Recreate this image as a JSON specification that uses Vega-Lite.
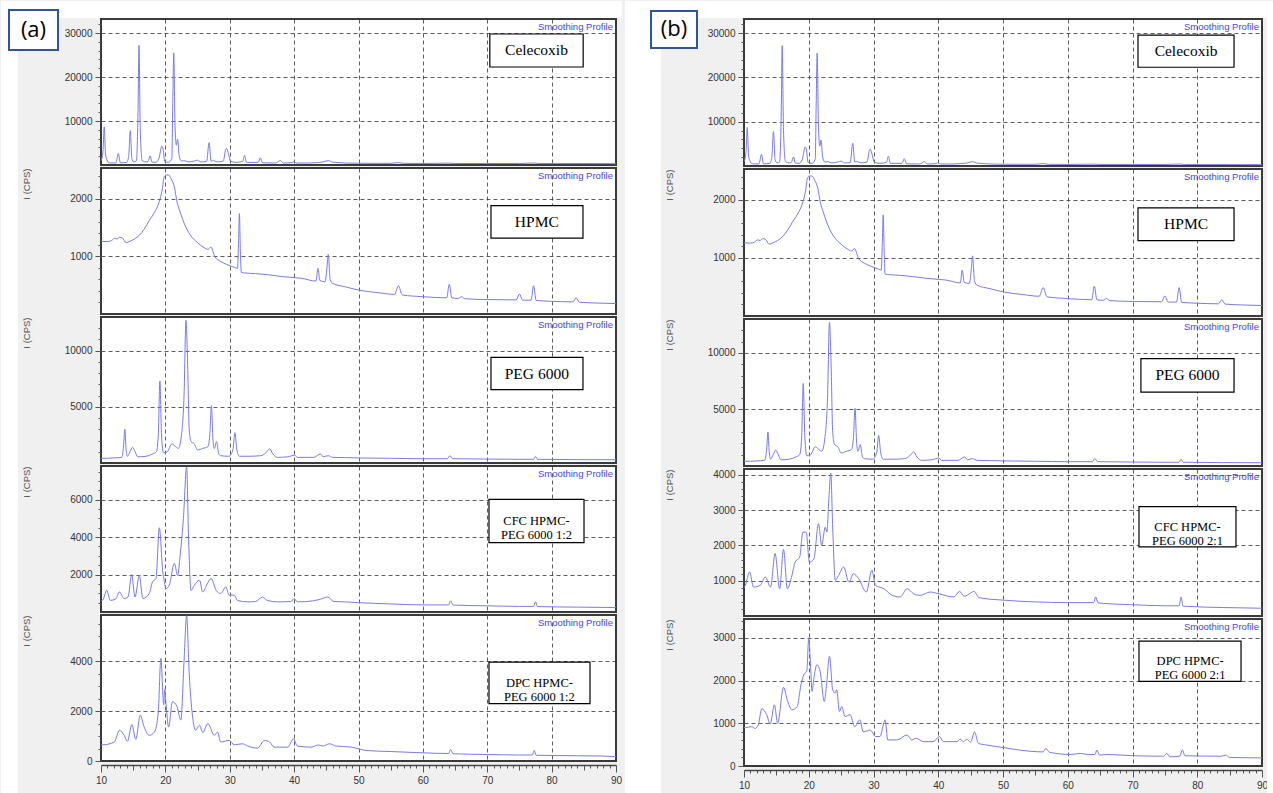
{
"$schema": "https://vega.github.io/schema/vega-lite/v6.json",
"padding": 0,
"background": "#f0f0f0",
"datasets": {
"one": [{}],
"cel": [{"t":10.0,"i":900},{"t":10.3,"i":3000},{"t":10.5,"i":8700},{"t":10.7,"i":2500},{"t":10.9,"i":1200},{"t":11.3,"i":500},{"t":12.3,"i":450},{"t":12.7,"i":2600},{"t":13.0,"i":500},{"t":14.0,"i":600},{"t":14.3,"i":2000},{"t":14.55,"i":7800},{"t":14.8,"i":1500},{"t":15.1,"i":700},{"t":15.5,"i":900},{"t":15.75,"i":12000},{"t":15.9,"i":27200},{"t":16.1,"i":8000},{"t":16.4,"i":1000},{"t":17.0,"i":700},{"t":17.3,"i":800},{"t":17.65,"i":2050},{"t":17.9,"i":700},{"t":18.5,"i":600},{"t":19.0,"i":1500},{"t":19.45,"i":4300},{"t":19.65,"i":3600},{"t":19.9,"i":800},{"t":20.5,"i":600},{"t":21.0,"i":1500},{"t":21.15,"i":14000},{"t":21.3,"i":25500},{"t":21.5,"i":9000},{"t":21.7,"i":4500},{"t":21.9,"i":5850},{"t":22.15,"i":2000},{"t":22.5,"i":900},{"t":23.0,"i":1000},{"t":23.5,"i":700},{"t":24.5,"i":900},{"t":25.0,"i":1100},{"t":25.5,"i":700},{"t":26.4,"i":800},{"t":26.8,"i":5100},{"t":27.1,"i":900},{"t":27.5,"i":1000},{"t":28.0,"i":700},{"t":29.0,"i":900},{"t":29.35,"i":3500},{"t":29.5,"i":3800},{"t":29.8,"i":2500},{"t":30.1,"i":900},{"t":31.0,"i":600},{"t":32.0,"i":800},{"t":32.3,"i":2200},{"t":32.6,"i":600},{"t":34.4,"i":600},{"t":34.75,"i":1650},{"t":35.1,"i":500},{"t":37.0,"i":450},{"t":37.6,"i":800},{"t":37.85,"i":1050},{"t":38.3,"i":450},{"t":39.7,"i":550},{"t":40.0,"i":830},{"t":40.3,"i":450},{"t":42.0,"i":450},{"t":43.5,"i":550},{"t":44.5,"i":700},{"t":45.3,"i":1000},{"t":46.0,"i":650},{"t":47.0,"i":550},{"t":48.0,"i":450},{"t":50.0,"i":400},{"t":55.0,"i":380},{"t":56.2,"i":550},{"t":57.0,"i":380},{"t":60.0,"i":350},{"t":64.0,"i":420},{"t":65.0,"i":350},{"t":70.0,"i":330},{"t":75.0,"i":350},{"t":77.4,"i":450},{"t":78.0,"i":330},{"t":85.0,"i":320},{"t":90.0,"i":300}],
"hpmc": [{"t":10.0,"i":1260},{"t":11.0,"i":1255},{"t":11.6,"i":1270},{"t":12.1,"i":1310},{"t":12.5,"i":1300},{"t":12.9,"i":1330},{"t":13.3,"i":1320},{"t":13.9,"i":1235},{"t":14.5,"i":1260},{"t":15.2,"i":1300},{"t":16.0,"i":1370},{"t":16.7,"i":1470},{"t":17.5,"i":1620},{"t":18.3,"i":1760},{"t":19.0,"i":1930},{"t":19.5,"i":2150},{"t":19.8,"i":2370},{"t":20.1,"i":2410},{"t":20.5,"i":2410},{"t":20.9,"i":2340},{"t":21.4,"i":2200},{"t":21.8,"i":1950},{"t":22.2,"i":1800},{"t":23.2,"i":1500},{"t":24.0,"i":1350},{"t":25.0,"i":1235},{"t":26.0,"i":1150},{"t":26.6,"i":1120},{"t":27.1,"i":1160},{"t":27.4,"i":1080},{"t":27.7,"i":990},{"t":28.6,"i":910},{"t":29.5,"i":860},{"t":30.7,"i":810},{"t":31.2,"i":790},{"t":31.35,"i":1200},{"t":31.5,"i":1740},{"t":31.65,"i":1100},{"t":31.8,"i":720},{"t":32.5,"i":710},{"t":34.0,"i":700},{"t":36.0,"i":680},{"t":38.0,"i":650},{"t":40.0,"i":630},{"t":41.1,"i":620},{"t":43.4,"i":570},{"t":43.7,"i":790},{"t":44.0,"i":580},{"t":44.8,"i":560},{"t":45.1,"i":800},{"t":45.3,"i":1035},{"t":45.6,"i":600},{"t":46.0,"i":530},{"t":48.0,"i":470},{"t":50.0,"i":415},{"t":53.0,"i":370},{"t":55.6,"i":340},{"t":56.2,"i":490},{"t":56.8,"i":330},{"t":60.0,"i":300},{"t":63.7,"i":280},{"t":64.1,"i":515},{"t":64.5,"i":280},{"t":65.5,"i":270},{"t":66.0,"i":300},{"t":66.5,"i":265},{"t":70.0,"i":250},{"t":74.5,"i":245},{"t":75.0,"i":345},{"t":75.5,"i":240},{"t":76.8,"i":240},{"t":77.2,"i":490},{"t":77.6,"i":235},{"t":80.0,"i":220},{"t":83.3,"i":210},{"t":83.8,"i":280},{"t":84.3,"i":205},{"t":87.0,"i":190},{"t":90.0,"i":180}],
"peg": [{"t":10.0,"i":420},{"t":11.0,"i":420},{"t":12.0,"i":450},{"t":13.2,"i":500},{"t":13.5,"i":1500},{"t":13.7,"i":3000},{"t":13.9,"i":1200},{"t":14.1,"i":600},{"t":14.5,"i":1000},{"t":14.9,"i":1400},{"t":15.3,"i":1000},{"t":15.7,"i":550},{"t":17.0,"i":600},{"t":18.0,"i":800},{"t":18.6,"i":1000},{"t":18.9,"i":2500},{"t":19.15,"i":7300},{"t":19.4,"i":2500},{"t":19.7,"i":900},{"t":20.3,"i":1000},{"t":21.0,"i":1700},{"t":21.5,"i":1500},{"t":22.0,"i":1300},{"t":22.5,"i":2500},{"t":22.9,"i":6000},{"t":23.2,"i":12700},{"t":23.45,"i":9000},{"t":23.7,"i":3000},{"t":24.0,"i":1900},{"t":24.5,"i":1700},{"t":25.0,"i":1150},{"t":25.8,"i":1300},{"t":26.6,"i":1450},{"t":26.9,"i":2500},{"t":27.15,"i":5100},{"t":27.4,"i":2000},{"t":27.6,"i":1300},{"t":27.95,"i":1900},{"t":28.3,"i":800},{"t":28.6,"i":650},{"t":29.9,"i":600},{"t":30.5,"i":1200},{"t":30.8,"i":2700},{"t":31.1,"i":1200},{"t":31.5,"i":600},{"t":33.0,"i":600},{"t":34.8,"i":650},{"t":35.6,"i":900},{"t":36.2,"i":1250},{"t":36.7,"i":800},{"t":37.4,"i":500},{"t":39.0,"i":550},{"t":40.1,"i":700},{"t":40.5,"i":500},{"t":43.0,"i":500},{"t":44.1,"i":800},{"t":44.5,"i":550},{"t":45.3,"i":650},{"t":46.0,"i":500},{"t":48.0,"i":480},{"t":50.0,"i":450},{"t":55.0,"i":420},{"t":60.0,"i":380},{"t":63.8,"i":380},{"t":64.2,"i":650},{"t":64.6,"i":380},{"t":70.0,"i":350},{"t":75.0,"i":330},{"t":77.2,"i":330},{"t":77.5,"i":600},{"t":77.8,"i":330},{"t":84.0,"i":300},{"t":90.0,"i":290}],
"cfc12": [{"t":10.0,"i":600},{"t":10.3,"i":650},{"t":10.9,"i":1160},{"t":11.45,"i":620},{"t":12.3,"i":700},{"t":12.85,"i":1070},{"t":13.6,"i":720},{"t":14.2,"i":800},{"t":14.77,"i":2000},{"t":15.28,"i":800},{"t":15.95,"i":1960},{"t":16.5,"i":720},{"t":17.5,"i":990},{"t":18.0,"i":1610},{"t":18.54,"i":1790},{"t":19.06,"i":4500},{"t":19.6,"i":2150},{"t":19.8,"i":1700},{"t":20.1,"i":1250},{"t":20.6,"i":1430},{"t":21.4,"i":2600},{"t":21.9,"i":1960},{"t":22.3,"i":3050},{"t":22.8,"i":5000},{"t":23.3,"i":7750},{"t":23.6,"i":4000},{"t":23.98,"i":1150},{"t":24.5,"i":1430},{"t":25.3,"i":1700},{"t":25.8,"i":1070},{"t":26.5,"i":1500},{"t":27.1,"i":1790},{"t":27.9,"i":1150},{"t":28.6,"i":990},{"t":29.4,"i":1340},{"t":29.9,"i":900},{"t":30.7,"i":900},{"t":31.2,"i":620},{"t":32.8,"i":540},{"t":34.0,"i":560},{"t":35.1,"i":800},{"t":35.8,"i":620},{"t":37.4,"i":540},{"t":39.5,"i":560},{"t":40.0,"i":720},{"t":40.5,"i":540},{"t":43.0,"i":600},{"t":44.2,"i":700},{"t":45.2,"i":800},{"t":46.2,"i":560},{"t":48.0,"i":540},{"t":50.0,"i":500},{"t":55.0,"i":430},{"t":60.0,"i":380},{"t":64.0,"i":380},{"t":64.3,"i":600},{"t":64.7,"i":370},{"t":70.0,"i":330},{"t":75.0,"i":300},{"t":77.2,"i":300},{"t":77.5,"i":550},{"t":77.8,"i":290},{"t":84.0,"i":260},{"t":90.0,"i":240}],
"dpc12": [{"t":10.0,"i":650},{"t":10.3,"i":650},{"t":12.07,"i":760},{"t":12.85,"i":1230},{"t":13.6,"i":1030},{"t":14.1,"i":790},{"t":14.8,"i":1460},{"t":15.4,"i":865},{"t":16.1,"i":1840},{"t":16.7,"i":1360},{"t":17.5,"i":1030},{"t":18.3,"i":1160},{"t":18.9,"i":1970},{"t":19.3,"i":4110},{"t":19.74,"i":2250},{"t":19.9,"i":2860},{"t":20.1,"i":2300},{"t":20.5,"i":1360},{"t":21.1,"i":2380},{"t":21.8,"i":2180},{"t":22.4,"i":1640},{"t":22.9,"i":4000},{"t":23.3,"i":5830},{"t":23.7,"i":3500},{"t":24.2,"i":1840},{"t":24.7,"i":1230},{"t":25.3,"i":1435},{"t":25.8,"i":1140},{"t":26.6,"i":1500},{"t":27.6,"i":1030},{"t":28.1,"i":1160},{"t":28.6,"i":760},{"t":29.9,"i":825},{"t":30.7,"i":650},{"t":32.0,"i":690},{"t":32.8,"i":600},{"t":34.3,"i":515},{"t":35.4,"i":825},{"t":36.2,"i":760},{"t":36.9,"i":555},{"t":39.0,"i":555},{"t":39.9,"i":890},{"t":40.5,"i":600},{"t":42.6,"i":555},{"t":43.8,"i":640},{"t":44.5,"i":600},{"t":45.5,"i":690},{"t":46.5,"i":600},{"t":48.8,"i":560},{"t":50.1,"i":480},{"t":51.2,"i":420},{"t":55.0,"i":380},{"t":59.7,"i":330},{"t":64.0,"i":300},{"t":64.3,"i":460},{"t":64.7,"i":290},{"t":70.0,"i":260},{"t":75.0,"i":240},{"t":77.0,"i":240},{"t":77.3,"i":420},{"t":77.6,"i":230},{"t":84.0,"i":210},{"t":87.7,"i":200},{"t":90.0,"i":175}],
"cfc21": [{"t":10.0,"i":800},{"t":10.2,"i":870},{"t":10.85,"i":1250},{"t":11.47,"i":820},{"t":12.5,"i":870},{"t":13.3,"i":1105},{"t":14.1,"i":820},{"t":14.8,"i":1770},{"t":15.5,"i":775},{"t":16.1,"i":1890},{"t":16.7,"i":775},{"t":17.4,"i":1150},{"t":17.9,"i":1530},{"t":18.6,"i":1670},{"t":19.1,"i":2380},{"t":19.6,"i":2380},{"t":20.1,"i":1530},{"t":20.8,"i":1620},{"t":21.5,"i":2620},{"t":22.0,"i":2010},{"t":22.55,"i":2520},{"t":22.8,"i":2380},{"t":23.1,"i":3300},{"t":23.4,"i":4050},{"t":23.7,"i":2500},{"t":24.1,"i":1010},{"t":24.6,"i":1150},{"t":25.4,"i":1390},{"t":26.2,"i":960},{"t":26.9,"i":1200},{"t":27.7,"i":1060},{"t":28.9,"i":680},{"t":29.75,"i":1300},{"t":30.3,"i":870},{"t":31.6,"i":775},{"t":32.9,"i":585},{"t":34.1,"i":540},{"t":35.2,"i":775},{"t":36.2,"i":630},{"t":37.2,"i":585},{"t":38.75,"i":680},{"t":40.1,"i":630},{"t":42.4,"i":540},{"t":43.3,"i":700},{"t":44.0,"i":560},{"t":45.0,"i":650},{"t":45.5,"i":700},{"t":46.3,"i":520},{"t":50.0,"i":450},{"t":55.0,"i":400},{"t":60.0,"i":380},{"t":64.0,"i":380},{"t":64.3,"i":540},{"t":64.7,"i":370},{"t":70.0,"i":320},{"t":75.0,"i":290},{"t":77.2,"i":290},{"t":77.5,"i":540},{"t":77.8,"i":280},{"t":84.0,"i":240},{"t":90.0,"i":220}],
"dpc21": [{"t":10.0,"i":900},{"t":10.2,"i":900},{"t":11.2,"i":920},{"t":11.7,"i":880},{"t":12.2,"i":960},{"t":12.75,"i":1340},{"t":13.5,"i":1200},{"t":14.05,"i":980},{"t":14.7,"i":1430},{"t":15.2,"i":1000},{"t":16.1,"i":1840},{"t":16.75,"i":1510},{"t":17.4,"i":1315},{"t":18.2,"i":1390},{"t":18.8,"i":1900},{"t":19.25,"i":2140},{"t":19.7,"i":2220},{"t":20.0,"i":3000},{"t":20.3,"i":2290},{"t":20.5,"i":1745},{"t":20.8,"i":2060},{"t":21.25,"i":2370},{"t":21.75,"i":2220},{"t":22.4,"i":1510},{"t":22.7,"i":1820},{"t":23.2,"i":2570},{"t":23.7,"i":1785},{"t":24.1,"i":1705},{"t":24.3,"i":1785},{"t":24.75,"i":1275},{"t":25.1,"i":1390},{"t":25.6,"i":1160},{"t":26.4,"i":1200},{"t":27.1,"i":920},{"t":27.9,"i":1080},{"t":28.4,"i":800},{"t":29.5,"i":840},{"t":30.3,"i":690},{"t":31.0,"i":690},{"t":31.8,"i":1080},{"t":32.2,"i":610},{"t":33.6,"i":610},{"t":35.2,"i":725},{"t":35.9,"i":610},{"t":36.6,"i":650},{"t":37.7,"i":570},{"t":39.2,"i":570},{"t":40.2,"i":690},{"t":40.8,"i":570},{"t":42.9,"i":570},{"t":43.4,"i":630},{"t":43.9,"i":570},{"t":44.4,"i":625},{"t":45.0,"i":560},{"t":45.6,"i":800},{"t":46.2,"i":530},{"t":47.5,"i":490},{"t":50.1,"i":430},{"t":52.7,"i":370},{"t":56.2,"i":330},{"t":56.6,"i":410},{"t":57.2,"i":320},{"t":60.4,"i":270},{"t":62.0,"i":295},{"t":63.0,"i":270},{"t":64.2,"i":270},{"t":64.5,"i":375},{"t":64.9,"i":255},{"t":66.0,"i":270},{"t":70.2,"i":240},{"t":74.8,"i":230},{"t":75.3,"i":295},{"t":75.8,"i":215},{"t":77.3,"i":230},{"t":77.7,"i":375},{"t":78.1,"i":240},{"t":83.8,"i":230},{"t":84.4,"i":255},{"t":85.0,"i":200},{"t":90.0,"i":190}]
},
"spacing": 0,
"hconcat": [
{"spacing": 3, "bounds": "flush", "vconcat": [
 {"width": 515, "height": 146, "layer": [
  {"data": {"name": "cel"}, "mark": {"type": "line", "color": "#7a7ae8", "strokeWidth": 1, "clip": true, "interpolate": "monotone"},
   "encoding": {
    "x": {"field": "t", "type": "quantitative", "scale": {"domain": [10, 90], "nice": false, "zero": false}, "axis": {"values": [10,20,30,40,50,60,70,80,90], "labels": false, "ticks": false, "title": null, "minExtent": 0, "maxExtent": 0}},
    "y": {"field": "i", "type": "quantitative", "scale": {"domain": [0, 33200], "nice": false}, "axis": {"values": [2000,4000,6000,8000,10000,12000,14000,16000,18000,20000,22000,24000,26000,28000,30000,32000], "labelExpr": "datum.value % 10000 === 0 ? datum.value : ''", "tickSize": {"condition": {"test": "datum.value % 10000 === 0", "value": 6}, "value": 3}, "gridOpacity": {"condition": {"test": "datum.value % 10000 === 0", "value": 1}, "value": 0}, "title": null}}
   }},
  {"data": {"name": "one"}, "mark": {"type": "rect", "fill": "white"}, "encoding": {"x": {"datum": -5.53}, "x2": {"datum": 90.93}, "y": {"datum": 33427}, "y2": {"datum": 37293}}},
  {"data": {"name": "one"}, "mark": {"type": "rect", "fill": "white"}, "encoding": {"x": {"datum": -5.53}, "x2": {"datum": -2.89}, "y": {"datum": -682}, "y2": {"datum": 33427}}},
  {"data": {"name": "one"}, "mark": {"type": "text", "text": "Smoothing Profile", "align": "right", "baseline": "top", "dx": -3, "dy": 3, "font": "Liberation Sans", "fontSize": 9.5, "color": "#4646e0"}, "encoding": {"x": {"datum": 90}, "y": {"datum": 33200}}},
  {"data": {"name": "one"}, "mark": {"type": "rect", "fill": "white", "stroke": "black", "strokeWidth": 1.2}, "encoding": {"x": {"datum": 70.4}, "x2": {"datum": 84.9}, "y": {"datum": 29790}, "y2": {"datum": 22285}}},
  {"data": {"name": "one"}, "mark": {"type": "text", "text": "Celecoxib", "font": "Liberation Serif", "fontSize": 15.5, "baseline": "middle"}, "encoding": {"x": {"datum": 77.65}, "y": {"datum": 26037}}},
  {"data": {"name": "one"}, "mark": {"type": "rect", "fill": "white", "stroke": "#2f5597", "strokeWidth": 2}, "encoding": {"x": {"datum": -4.29}, "x2": {"datum": 3.32}, "y": {"datum": 35250}, "y2": {"datum": 26150}}},
  {"data": {"name": "one"}, "mark": {"type": "text", "text": "(a)", "font": "Open Sans", "fontSize": 22, "baseline": "middle"}, "encoding": {"x": {"datum": -0.49}, "y": {"datum": 30700}}}
 ]},
 {"width": 515, "height": 146, "layer": [
  {"data": {"name": "hpmc"}, "mark": {"type": "line", "color": "#7a7ae8", "strokeWidth": 1, "clip": true, "interpolate": "monotone"},
   "encoding": {
    "x": {"field": "t", "type": "quantitative", "scale": {"domain": [10, 90], "nice": false, "zero": false}, "axis": {"values": [10,20,30,40,50,60,70,80,90], "labels": false, "ticks": false, "title": null, "minExtent": 0, "maxExtent": 0}},
    "y": {"field": "i", "type": "quantitative", "scale": {"domain": [0, 2530], "nice": false}, "axis": {"values": [200,400,600,800,1000,1200,1400,1600,1800,2000,2200,2400], "labelExpr": "datum.value % 1000 === 0 ? datum.value : ''", "tickSize": {"condition": {"test": "datum.value % 1000 === 0", "value": 6}, "value": 3}, "gridOpacity": {"condition": {"test": "datum.value % 1000 === 0", "value": 1}, "value": 0}, "title": "I (CPS)"}}
   }},
  {"data": {"name": "one"}, "mark": {"type": "rect", "fill": "white"}, "encoding": {"x": {"datum": -5.53}, "x2": {"datum": -2.89}, "y": {"datum": -52}, "y2": {"datum": 2530}}},
  {"data": {"name": "one"}, "mark": {"type": "text", "text": "Smoothing Profile", "align": "right", "baseline": "top", "dx": -3, "dy": 3, "font": "Liberation Sans", "fontSize": 9.5, "color": "#4646e0"}, "encoding": {"x": {"datum": 90}, "y": {"datum": 2530}}},
  {"data": {"name": "one"}, "mark": {"type": "rect", "fill": "white", "stroke": "black", "strokeWidth": 1.2}, "encoding": {"x": {"datum": 70.58}, "x2": {"datum": 84.87}, "y": {"datum": 1877}, "y2": {"datum": 1316}}},
  {"data": {"name": "one"}, "mark": {"type": "text", "text": "HPMC", "font": "Liberation Serif", "fontSize": 15.5, "baseline": "middle"}, "encoding": {"x": {"datum": 77.7}, "y": {"datum": 1596}}}
 ]},
 {"width": 515, "height": 146, "layer": [
  {"data": {"name": "peg"}, "mark": {"type": "line", "color": "#7a7ae8", "strokeWidth": 1, "clip": true, "interpolate": "monotone"},
   "encoding": {
    "x": {"field": "t", "type": "quantitative", "scale": {"domain": [10, 90], "nice": false, "zero": false}, "axis": {"values": [10,20,30,40,50,60,70,80,90], "labels": false, "ticks": false, "title": null, "minExtent": 0, "maxExtent": 0}},
    "y": {"field": "i", "type": "quantitative", "scale": {"domain": [0, 13000], "nice": false}, "axis": {"values": [1000,2000,3000,4000,5000,6000,7000,8000,9000,10000,11000,12000], "labelExpr": "datum.value % 5000 === 0 ? datum.value : ''", "tickSize": {"condition": {"test": "datum.value % 5000 === 0", "value": 6}, "value": 3}, "gridOpacity": {"condition": {"test": "datum.value % 5000 === 0", "value": 1}, "value": 0}, "title": "I (CPS)"}}
   }},
  {"data": {"name": "one"}, "mark": {"type": "rect", "fill": "white"}, "encoding": {"x": {"datum": -5.53}, "x2": {"datum": -2.89}, "y": {"datum": -267}, "y2": {"datum": 13000}}},
  {"data": {"name": "one"}, "mark": {"type": "text", "text": "Smoothing Profile", "align": "right", "baseline": "top", "dx": -3, "dy": 3, "font": "Liberation Sans", "fontSize": 9.5, "color": "#4646e0"}, "encoding": {"x": {"datum": 90}, "y": {"datum": 13000}}},
  {"data": {"name": "one"}, "mark": {"type": "rect", "fill": "white", "stroke": "black", "strokeWidth": 1.2}, "encoding": {"x": {"datum": 70.58}, "x2": {"datum": 84.87}, "y": {"datum": 9400}, "y2": {"datum": 6526}}},
  {"data": {"name": "one"}, "mark": {"type": "text", "text": "PEG 6000", "font": "Liberation Serif", "fontSize": 15.5, "baseline": "middle"}, "encoding": {"x": {"datum": 77.7}, "y": {"datum": 7963}}}
 ]},
 {"width": 515, "height": 146, "layer": [
  {"data": {"name": "cfc12"}, "mark": {"type": "line", "color": "#7a7ae8", "strokeWidth": 1, "clip": true, "interpolate": "monotone"},
   "encoding": {
    "x": {"field": "t", "type": "quantitative", "scale": {"domain": [10, 90], "nice": false, "zero": false}, "axis": {"values": [10,20,30,40,50,60,70,80,90], "labels": false, "ticks": false, "title": null, "minExtent": 0, "maxExtent": 0}},
    "y": {"field": "i", "type": "quantitative", "scale": {"domain": [0, 7800], "nice": false}, "axis": {"values": [500,1000,1500,2000,2500,3000,3500,4000,4500,5000,5500,6000,6500,7000,7500], "labelExpr": "datum.value % 2000 === 0 ? datum.value : ''", "tickSize": {"condition": {"test": "datum.value % 2000 === 0", "value": 6}, "value": 3}, "gridOpacity": {"condition": {"test": "datum.value % 2000 === 0", "value": 1}, "value": 0}, "title": "I (CPS)"}}
   }},
  {"data": {"name": "one"}, "mark": {"type": "rect", "fill": "white"}, "encoding": {"x": {"datum": -5.53}, "x2": {"datum": -2.89}, "y": {"datum": -160}, "y2": {"datum": 7800}}},
  {"data": {"name": "one"}, "mark": {"type": "text", "text": "Smoothing Profile", "align": "right", "baseline": "top", "dx": -3, "dy": 3, "font": "Liberation Sans", "fontSize": 9.5, "color": "#4646e0"}, "encoding": {"x": {"datum": 90}, "y": {"datum": 7800}}},
  {"data": {"name": "one"}, "mark": {"type": "rect", "fill": "white", "stroke": "black", "strokeWidth": 1.2}, "encoding": {"x": {"datum": 70.27}, "x2": {"datum": 85.03}, "y": {"datum": 6016}, "y2": {"datum": 3704}}},
  {"data": {"name": "one"}, "mark": {"type": "text", "text": ["CFC HPMC-", "PEG 6000 1:2"], "font": "Liberation Serif", "fontSize": 12.5, "lineHeight": 14, "baseline": "middle"}, "encoding": {"x": {"datum": 77.65}, "y": {"datum": 4860}}}
 ]},
 {"width": 515, "height": 146, "layer": [
  {"data": {"name": "dpc12"}, "mark": {"type": "line", "color": "#7a7ae8", "strokeWidth": 1, "clip": true, "interpolate": "monotone"},
   "encoding": {
    "x": {"field": "t", "type": "quantitative", "scale": {"domain": [10, 90], "nice": false, "zero": false}, "axis": {"values": [10,11,12,13,14,15,16,17,18,19,20,21,22,23,24,25,26,27,28,29,30,31,32,33,34,35,36,37,38,39,40,41,42,43,44,45,46,47,48,49,50,51,52,53,54,55,56,57,58,59,60,61,62,63,64,65,66,67,68,69,70,71,72,73,74,75,76,77,78,79,80,81,82,83,84,85,86,87,88,89,90], "labelExpr": "datum.value % 10 === 0 ? datum.value : ''", "tickSize": {"condition": [{"test": "datum.value % 10 === 0", "value": 7}, {"test": "datum.value % 5 === 0", "value": 5}], "value": 3}, "gridOpacity": {"condition": {"test": "datum.value % 10 === 0", "value": 1}, "value": 0}, "offset": 4, "domain": true, "domainColor": "#444", "domainWidth": 1.5, "labelPadding": 3, "title": null}},
    "y": {"field": "i", "type": "quantitative", "scale": {"domain": [0, 5850], "nice": false}, "axis": {"values": [0,500,1000,1500,2000,2500,3000,3500,4000,4500,5000,5500], "labelExpr": "datum.value % 2000 === 0 ? datum.value : ''", "tickSize": {"condition": {"test": "datum.value % 2000 === 0", "value": 6}, "value": 3}, "gridOpacity": {"condition": {"test": "datum.value % 2000 === 0", "value": 1}, "value": 0}, "title": "I (CPS)"}}
   }},
  {"data": {"name": "one"}, "mark": {"type": "rect", "fill": "white"}, "encoding": {"x": {"datum": -5.53}, "x2": {"datum": -2.89}, "y": {"datum": -1323}, "y2": {"datum": 5850}}},
  {"data": {"name": "one"}, "mark": {"type": "text", "text": "Smoothing Profile", "align": "right", "baseline": "top", "dx": -3, "dy": 3, "font": "Liberation Sans", "fontSize": 9.5, "color": "#4646e0"}, "encoding": {"x": {"datum": 90}, "y": {"datum": 5850}}},
  {"data": {"name": "one"}, "mark": {"type": "rect", "fill": "white", "stroke": "black", "strokeWidth": 1.2}, "encoding": {"x": {"datum": 70.27}, "x2": {"datum": 85.96}, "y": {"datum": 3961}, "y2": {"datum": 2299}}},
  {"data": {"name": "one"}, "mark": {"type": "text", "text": ["DPC  HPMC-", "PEG 6000 1:2"], "font": "Liberation Serif", "fontSize": 12.5, "lineHeight": 14, "baseline": "middle"}, "encoding": {"x": {"datum": 78.1}, "y": {"datum": 3130}}}
 ]}
]},
{"spacing": 3, "bounds": "flush", "vconcat": [
 {"width": 518, "height": 147, "layer": [
  {"data": {"name": "cel"}, "mark": {"type": "line", "color": "#7a7ae8", "strokeWidth": 1, "clip": true, "interpolate": "monotone"},
   "encoding": {
    "x": {"field": "t", "type": "quantitative", "scale": {"domain": [10, 90], "nice": false, "zero": false}, "axis": {"values": [10,20,30,40,50,60,70,80,90], "labels": false, "ticks": false, "title": null, "minExtent": 0, "maxExtent": 0}},
    "y": {"field": "i", "type": "quantitative", "scale": {"domain": [0, 33200], "nice": false}, "axis": {"values": [2000,4000,6000,8000,10000,12000,14000,16000,18000,20000,22000,24000,26000,28000,30000,32000], "labelExpr": "datum.value % 10000 === 0 ? datum.value : ''", "tickSize": {"condition": {"test": "datum.value % 10000 === 0", "value": 6}, "value": 3}, "gridOpacity": {"condition": {"test": "datum.value % 10000 === 0", "value": 1}, "value": 0}, "title": null}}
   }},
  {"data": {"name": "one"}, "mark": {"type": "rect", "fill": "white"}, "encoding": {"x": {"datum": -8.38}, "x2": {"datum": 92.32}, "y": {"datum": 33426}, "y2": {"datum": 37265}}},
  {"data": {"name": "one"}, "mark": {"type": "rect", "fill": "white"}, "encoding": {"x": {"datum": -8.38}, "x2": {"datum": -2.82}, "y": {"datum": -678}, "y2": {"datum": 33426}}},
  {"data": {"name": "one"}, "mark": {"type": "rect", "fill": "white"}, "encoding": {"x": {"datum": 90.77}, "x2": {"datum": 92.32}, "y": {"datum": -678}, "y2": {"datum": 33426}}},
  {"data": {"name": "one"}, "mark": {"type": "text", "text": "Smoothing Profile", "align": "right", "baseline": "top", "dx": -3, "dy": 3, "font": "Liberation Sans", "fontSize": 9.5, "color": "#4646e0"}, "encoding": {"x": {"datum": 90}, "y": {"datum": 33200}}},
  {"data": {"name": "one"}, "mark": {"type": "rect", "fill": "white", "stroke": "black", "strokeWidth": 1.2}, "encoding": {"x": {"datum": 70.85}, "x2": {"datum": 85.68}, "y": {"datum": 29540}, "y2": {"datum": 22300}}},
  {"data": {"name": "one"}, "mark": {"type": "text", "text": "Celecoxib", "font": "Liberation Serif", "fontSize": 15.5, "baseline": "middle"}, "encoding": {"x": {"datum": 78.27}, "y": {"datum": 25920}}},
  {"data": {"name": "one"}, "mark": {"type": "rect", "fill": "white", "stroke": "#2f5597", "strokeWidth": 2}, "encoding": {"x": {"datum": -4.36}, "x2": {"datum": 2.74}, "y": {"datum": 35007}, "y2": {"datum": 26650}}},
  {"data": {"name": "one"}, "mark": {"type": "text", "text": "(b)", "font": "Open Sans", "fontSize": 22, "baseline": "middle"}, "encoding": {"x": {"datum": -0.81}, "y": {"datum": 30829}}}
 ]},
 {"width": 518, "height": 147, "layer": [
  {"data": {"name": "hpmc"}, "mark": {"type": "line", "color": "#7a7ae8", "strokeWidth": 1, "clip": true, "interpolate": "monotone"},
   "encoding": {
    "x": {"field": "t", "type": "quantitative", "scale": {"domain": [10, 90], "nice": false, "zero": false}, "axis": {"values": [10,20,30,40,50,60,70,80,90], "labels": false, "ticks": false, "title": null, "minExtent": 0, "maxExtent": 0}},
    "y": {"field": "i", "type": "quantitative", "scale": {"domain": [0, 2530], "nice": false}, "axis": {"values": [200,400,600,800,1000,1200,1400,1600,1800,2000,2200,2400], "labelExpr": "datum.value % 1000 === 0 ? datum.value : ''", "tickSize": {"condition": {"test": "datum.value % 1000 === 0", "value": 6}, "value": 3}, "gridOpacity": {"condition": {"test": "datum.value % 1000 === 0", "value": 1}, "value": 0}, "title": "I (CPS)"}}
   }},
  {"data": {"name": "one"}, "mark": {"type": "rect", "fill": "white"}, "encoding": {"x": {"datum": -8.38}, "x2": {"datum": -2.82}, "y": {"datum": -52}, "y2": {"datum": 2530}}},
  {"data": {"name": "one"}, "mark": {"type": "rect", "fill": "white"}, "encoding": {"x": {"datum": 90.77}, "x2": {"datum": 92.32}, "y": {"datum": -52}, "y2": {"datum": 2530}}},
  {"data": {"name": "one"}, "mark": {"type": "text", "text": "Smoothing Profile", "align": "right", "baseline": "top", "dx": -3, "dy": 3, "font": "Liberation Sans", "fontSize": 9.5, "color": "#4646e0"}, "encoding": {"x": {"datum": 90}, "y": {"datum": 2530}}},
  {"data": {"name": "one"}, "mark": {"type": "rect", "fill": "white", "stroke": "black", "strokeWidth": 1.2}, "encoding": {"x": {"datum": 70.85}, "x2": {"datum": 85.68}, "y": {"datum": 1860}, "y2": {"datum": 1298}}},
  {"data": {"name": "one"}, "mark": {"type": "text", "text": "HPMC", "font": "Liberation Serif", "fontSize": 15.5, "baseline": "middle"}, "encoding": {"x": {"datum": 78.27}, "y": {"datum": 1580}}}
 ]},
 {"width": 518, "height": 147, "layer": [
  {"data": {"name": "peg"}, "mark": {"type": "line", "color": "#7a7ae8", "strokeWidth": 1, "clip": true, "interpolate": "monotone"},
   "encoding": {
    "x": {"field": "t", "type": "quantitative", "scale": {"domain": [10, 90], "nice": false, "zero": false}, "axis": {"values": [10,20,30,40,50,60,70,80,90], "labels": false, "ticks": false, "title": null, "minExtent": 0, "maxExtent": 0}},
    "y": {"field": "i", "type": "quantitative", "scale": {"domain": [0, 13000], "nice": false}, "axis": {"values": [1000,2000,3000,4000,5000,6000,7000,8000,9000,10000,11000,12000], "labelExpr": "datum.value % 5000 === 0 ? datum.value : ''", "tickSize": {"condition": {"test": "datum.value % 5000 === 0", "value": 6}, "value": 3}, "gridOpacity": {"condition": {"test": "datum.value % 5000 === 0", "value": 1}, "value": 0}, "title": "I (CPS)"}}
   }},
  {"data": {"name": "one"}, "mark": {"type": "rect", "fill": "white"}, "encoding": {"x": {"datum": -8.38}, "x2": {"datum": -2.82}, "y": {"datum": -265}, "y2": {"datum": 13000}}},
  {"data": {"name": "one"}, "mark": {"type": "rect", "fill": "white"}, "encoding": {"x": {"datum": 90.77}, "x2": {"datum": 92.32}, "y": {"datum": -265}, "y2": {"datum": 13000}}},
  {"data": {"name": "one"}, "mark": {"type": "text", "text": "Smoothing Profile", "align": "right", "baseline": "top", "dx": -3, "dy": 3, "font": "Liberation Sans", "fontSize": 9.5, "color": "#4646e0"}, "encoding": {"x": {"datum": 90}, "y": {"datum": 13000}}},
  {"data": {"name": "one"}, "mark": {"type": "rect", "fill": "white", "stroke": "black", "strokeWidth": 1.2}, "encoding": {"x": {"datum": 71.3}, "x2": {"datum": 85.68}, "y": {"datum": 9488}, "y2": {"datum": 6526}}},
  {"data": {"name": "one"}, "mark": {"type": "text", "text": "PEG 6000", "font": "Liberation Serif", "fontSize": 15.5, "baseline": "middle"}, "encoding": {"x": {"datum": 78.5}, "y": {"datum": 8007}}}
 ]},
 {"width": 518, "height": 147, "layer": [
  {"data": {"name": "cfc21"}, "mark": {"type": "line", "color": "#7a7ae8", "strokeWidth": 1, "clip": true, "interpolate": "monotone"},
   "encoding": {
    "x": {"field": "t", "type": "quantitative", "scale": {"domain": [10, 90], "nice": false, "zero": false}, "axis": {"values": [10,20,30,40,50,60,70,80,90], "labels": false, "ticks": false, "title": null, "minExtent": 0, "maxExtent": 0}},
    "y": {"field": "i", "type": "quantitative", "scale": {"domain": [0, 4170], "nice": false}, "axis": {"values": [200,400,600,800,1000,1200,1400,1600,1800,2000,2200,2400,2600,2800,3000,3200,3400,3600,3800,4000], "labelExpr": "datum.value % 1000 === 0 ? datum.value : ''", "tickSize": {"condition": {"test": "datum.value % 1000 === 0", "value": 6}, "value": 3}, "gridOpacity": {"condition": {"test": "datum.value % 1000 === 0", "value": 1}, "value": 0}, "title": "I (CPS)"}}
   }},
  {"data": {"name": "one"}, "mark": {"type": "rect", "fill": "white"}, "encoding": {"x": {"datum": -8.38}, "x2": {"datum": -2.82}, "y": {"datum": -85}, "y2": {"datum": 4170}}},
  {"data": {"name": "one"}, "mark": {"type": "rect", "fill": "white"}, "encoding": {"x": {"datum": 90.77}, "x2": {"datum": 92.32}, "y": {"datum": -85}, "y2": {"datum": 4170}}},
  {"data": {"name": "one"}, "mark": {"type": "text", "text": "Smoothing Profile", "align": "right", "baseline": "top", "dx": -3, "dy": 3, "font": "Liberation Sans", "fontSize": 9.5, "color": "#4646e0"}, "encoding": {"x": {"datum": 90}, "y": {"datum": 4170}}},
  {"data": {"name": "one"}, "mark": {"type": "rect", "fill": "white", "stroke": "black", "strokeWidth": 1.2}, "encoding": {"x": {"datum": 71.0}, "x2": {"datum": 85.98}, "y": {"datum": 3100}, "y2": {"datum": 1960}}},
  {"data": {"name": "one"}, "mark": {"type": "text", "text": ["CFC HPMC-", "PEG 6000 2:1"], "font": "Liberation Serif", "fontSize": 12.5, "lineHeight": 14, "baseline": "middle"}, "encoding": {"x": {"datum": 78.5}, "y": {"datum": 2530}}}
 ]},
 {"width": 518, "height": 147, "layer": [
  {"data": {"name": "dpc21"}, "mark": {"type": "line", "color": "#7a7ae8", "strokeWidth": 1, "clip": true, "interpolate": "monotone"},
   "encoding": {
    "x": {"field": "t", "type": "quantitative", "scale": {"domain": [10, 90], "nice": false, "zero": false}, "axis": {"values": [10,11,12,13,14,15,16,17,18,19,20,21,22,23,24,25,26,27,28,29,30,31,32,33,34,35,36,37,38,39,40,41,42,43,44,45,46,47,48,49,50,51,52,53,54,55,56,57,58,59,60,61,62,63,64,65,66,67,68,69,70,71,72,73,74,75,76,77,78,79,80,81,82,83,84,85,86,87,88,89,90], "labelExpr": "datum.value % 10 === 0 ? datum.value : ''", "tickSize": {"condition": [{"test": "datum.value % 10 === 0", "value": 7}, {"test": "datum.value % 5 === 0", "value": 5}], "value": 3}, "gridOpacity": {"condition": {"test": "datum.value % 10 === 0", "value": 1}, "value": 0}, "offset": 4, "domain": true, "domainColor": "#444", "domainWidth": 1.5, "labelPadding": 3, "title": null}},
    "y": {"field": "i", "type": "quantitative", "scale": {"domain": [0, 3440], "nice": false}, "axis": {"values": [0,200,400,600,800,1000,1200,1400,1600,1800,2000,2200,2400,2600,2800,3000,3200,3400], "labelExpr": "datum.value % 1000 === 0 ? datum.value : ''", "tickSize": {"condition": {"test": "datum.value % 1000 === 0", "value": 6}, "value": 3}, "gridOpacity": {"condition": {"test": "datum.value % 1000 === 0", "value": 1}, "value": 0}, "title": "I (CPS)"}}
   }},
  {"data": {"name": "one"}, "mark": {"type": "rect", "fill": "white"}, "encoding": {"x": {"datum": -8.38}, "x2": {"datum": -2.82}, "y": {"datum": -655}, "y2": {"datum": 3440}}},
  {"data": {"name": "one"}, "mark": {"type": "rect", "fill": "white"}, "encoding": {"x": {"datum": 90.77}, "x2": {"datum": 92.32}, "y": {"datum": -655}, "y2": {"datum": 3440}}},
  {"data": {"name": "one"}, "mark": {"type": "text", "text": "Smoothing Profile", "align": "right", "baseline": "top", "dx": -3, "dy": 3, "font": "Liberation Sans", "fontSize": 9.5, "color": "#4646e0"}, "encoding": {"x": {"datum": 90}, "y": {"datum": 3440}}},
  {"data": {"name": "one"}, "mark": {"type": "rect", "fill": "white", "stroke": "black", "strokeWidth": 1.2}, "encoding": {"x": {"datum": 71.0}, "x2": {"datum": 86.76}, "y": {"datum": 2922}, "y2": {"datum": 1982}}},
  {"data": {"name": "one"}, "mark": {"type": "text", "text": ["DPC  HPMC-", "PEG 6000 2:1"], "font": "Liberation Serif", "fontSize": 12.5, "lineHeight": 14, "baseline": "middle"}, "encoding": {"x": {"datum": 78.9}, "y": {"datum": 2452}}}
 ]}
]}
],
"config": {
 "view": {"stroke": "#3a3a3a", "strokeWidth": 2, "fill": "white"},
 "axis": {"tickCount": 1000, "gridDash": [4, 3], "gridColor": "#333", "gridWidth": 0.8, "labelFont": "Liberation Sans", "labelFontSize": 10, "labelColor": "#333", "tickColor": "#555", "domain": false, "titleFont": "Liberation Sans", "titleFontSize": 9.5, "titleFontWeight": "normal", "titleColor": "#555", "labelOverlap": false, "labelFlush": false},
 "axisY": {"labelPadding": 3, "titleX": -75, "titleY": 0, "titleAlign": "right", "titleBaseline": "middle", "titleAngle": -90}
}
}
